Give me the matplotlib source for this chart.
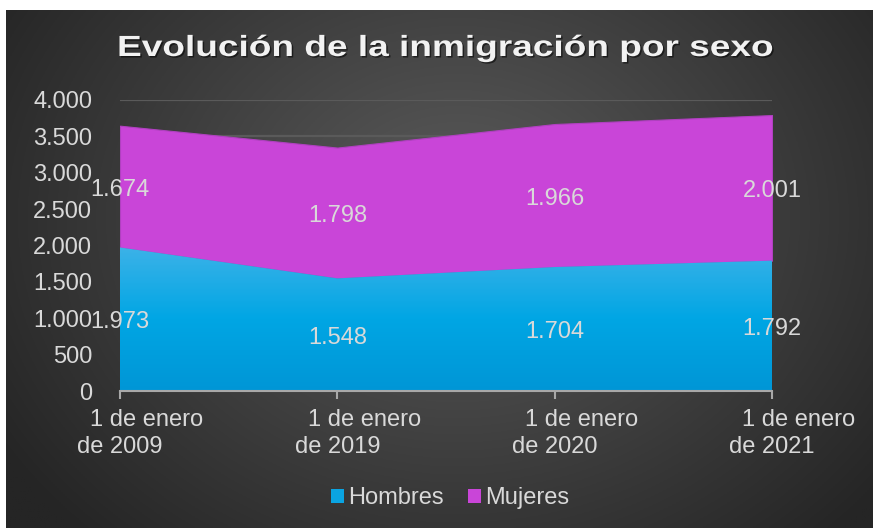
import numpy as np
import matplotlib
matplotlib.use("Agg")
import matplotlib.pyplot as plt
from matplotlib.colors import LinearSegmentedColormap
from matplotlib.patches import Patch
from matplotlib import transforms
from matplotlib.transforms import Affine2D
import matplotlib.patheffects as pe

# ---- data ----
categories_line1 = ["1 de enero", "1 de enero", "1 de enero", "1 de enero"]
categories_line2 = ["de 2009", "de 2019", "de 2020", "de 2021"]
hombres = [1973, 1548, 1704, 1792]
mujeres = [1674, 1798, 1966, 2001]
yticks = [0, 500, 1000, 1500, 2000, 2500, 3000, 3500, 4000]
title = "Evolución de la inmigración por sexo"

plt.rcParams['font.family'] = ['Liberation Sans', 'DejaVu Sans']
TXT = '#D9D9D9'
W, H = 873, 528
fig = plt.figure(figsize=(W / 100, H / 100), dpi=100, facecolor='white')


class StretchShadow(pe.AbstractPathEffect):
    """Widen text horizontally around cx (display px) and add a drop shadow."""

    def __init__(self, cx, sx):
        super().__init__()
        self.cx = cx
        self.sx = sx

    def draw_path(self, renderer, gc, tpath, affine, rgbFace=None):
        a = affine + Affine2D().translate(-self.cx, 0).scale(self.sx, 1).translate(self.cx, 0)
        gc0 = renderer.new_gc()
        gc0.copy_properties(gc)
        gc0.set_alpha(0.55)
        gc0.set_linewidth(0)
        renderer.draw_path(gc0, tpath, a + Affine2D().translate(1.5, -1.5), (0, 0, 0))
        gc0.restore()
        renderer.draw_path(gc, tpath, a, rgbFace)


# ---- card background with radial gradient ----
bg = fig.add_axes([6 / W, 0, 1 - 6 / W, (H - 10) / H])
bg.set_axis_off()
ny, nx = 260, 440
yy, xx = np.mgrid[0:ny, 0:nx]
cx, cy = nx * 0.52, ny * 0.40
r = np.sqrt(((xx - cx) / (nx * 0.62)) ** 2 + ((yy - cy) / (ny * 0.85)) ** 2)
r = np.clip(r, 0, 1)
c0 = np.array([0x5c, 0x5c, 0x5c]) / 255
c1 = np.array([0x25, 0x25, 0x25]) / 255
img = c0[None, None, :] * (1 - r[..., None]) + c1[None, None, :] * r[..., None]
bg.imshow(img, aspect='auto', extent=[0, 1, 0, 1], origin='upper')
bg.set_xlim(0, 1)
bg.set_ylim(0, 1)

# ---- main axes ----
x0, x1 = 120, 772
yb, yt = 391, 100
ax = fig.add_axes([x0 / W, (H - yb) / H, (x1 - x0) / W, (yb - yt) / H])
ax.set_facecolor('none')
x = np.arange(len(hombres))
tot = np.array(hombres) + np.array(mujeres)

ax.set_xlim(0, 3)
ax.set_ylim(0, 4000)
ax.set_yticks(yticks)
ax.set_yticklabels([f"{v:,}".replace(",", ".") for v in yticks])
ax.grid(axis='y', color='#5a5a5a', lw=1.6, zorder=0)
ax.set_axisbelow(True)

# Mujeres area
ax.fill_between(x, hombres, tot, color='#C945D8', lw=0.8, edgecolor='#B040C0', zorder=2)
# Hombres area with vertical gradient
poly = ax.fill_between(x, 0, hombres, color='none', lw=0, zorder=3)
cmap = LinearSegmentedColormap.from_list('bl', ['#0096D6', '#00A6E4', '#3CB2E8'])
grad = np.linspace(0, 1, 256)[:, None]
im = ax.imshow(grad, extent=[0, 3, 0, max(hombres)], aspect='auto', cmap=cmap,
               origin='lower', zorder=3)
im.set_clip_path(poly.get_paths()[0], transform=ax.transData)
ax.set_xlim(0, 3)
ax.set_ylim(0, 4000)

for s in ['left', 'right', 'top']:
    ax.spines[s].set_visible(False)
ax.spines['bottom'].set_color('#A8A8A8')
ax.spines['bottom'].set_linewidth(1.5)
ax.spines['bottom'].set_zorder(5)
ax.tick_params(axis='y', length=0, pad=20, labelsize=17, labelcolor=TXT)
ax.set_xticks(x)
ax.set_xticklabels([])
ax.tick_params(axis='x', length=6, width=1.5, color='#A8A8A8', direction='out')

# category labels (two lines)
for i in range(len(x)):
    t1 = transforms.offset_copy(ax.get_xaxis_transform(), fig=fig, x=27, y=-29, units='dots')
    ax.text(i, 0, categories_line1[i], transform=t1, ha='center', va='center',
            fontsize=17, color=TXT, clip_on=False)
    t2 = transforms.offset_copy(ax.get_xaxis_transform(), fig=fig, x=0, y=-56, units='dots')
    ax.text(i, 0, categories_line2[i], transform=t2, ha='center', va='center',
            fontsize=17, color=TXT, clip_on=False)

# data labels
tlab = transforms.offset_copy(ax.transData, fig=fig, x=0, y=-3, units='dots')
for i in range(len(x)):
    ax.text(i, hombres[i] / 2, f"{hombres[i]:,}".replace(",", "."), ha='center', va='center',
            fontsize=17, color=TXT, zorder=6, clip_on=False, transform=tlab)
    ax.text(i, hombres[i] + mujeres[i] / 2, f"{mujeres[i]:,}".replace(",", "."), ha='center',
            va='center', fontsize=17, color=TXT, zorder=6, clip_on=False, transform=tlab)

# title (widened to mimic the expanded letter spacing of the original)
fig.text(445 / W, 1 - 48 / H, title, ha='center', va='center', fontsize=21, fontweight='bold',
         color='#F2F2F2', path_effects=[StretchShadow(445, 1.27)])

# legend
handles = [Patch(facecolor='#0AA4E2', edgecolor='none', label='Hombres'),
           Patch(facecolor='#C945D8', edgecolor='none', label='Mujeres')]
leg = fig.legend(handles=handles, loc='center', bbox_to_anchor=(450 / W, 1 - 498 / H), ncol=2,
                 frameon=False, fontsize=17, handlelength=0.55, handleheight=0.55,
                 handletextpad=0.2, columnspacing=1.0)
for t in leg.get_texts():
    t.set_color(TXT)

fig.savefig('out.png', dpi=100, facecolor='white')
